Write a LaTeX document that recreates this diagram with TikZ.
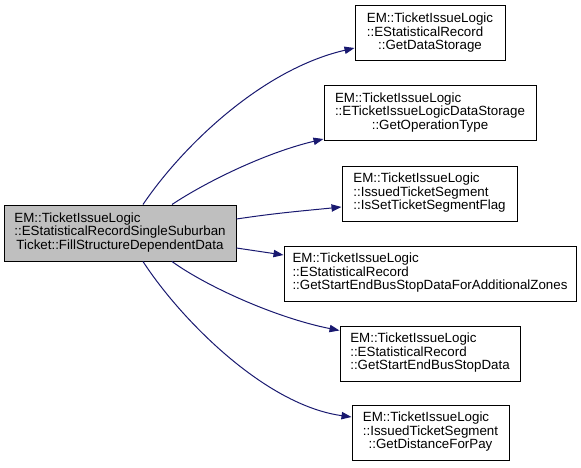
\documentclass[tikz,border=0pt]{standalone}
\usepackage{fontspec}
\setmainfont{Liberation Sans}
\usetikzlibrary{arrows.meta,calc}
\tikzset{
  fbox/.style={draw=black, line width=0.75pt, rectangle, inner sep=0pt, minimum height=41.25pt,
    font=\fontsize{10}{10}\selectfont, align=center},
  mainbox/.style={fbox, fill=mainfill, minimum height=42pt},
  edge/.style={draw=edgecol, line width=0.75pt, -{Triangle[length=7.5pt,width=5.5pt]}}
}
\definecolor{edgecol}{HTML}{191970}
\definecolor{mainfill}{HTML}{BFBFBF}
\newcommand{\lbl}[2]{\begin{tabular}{@{}l@{}}#1\\\multicolumn{1}{@{}c@{}}{#2}\end{tabular}}
\begin{document}
\begin{tikzpicture}[x=0.75pt,y=-0.75pt]
\useasboundingbox (0,0) rectangle (581,467);
\node[mainbox, minimum width=174pt] (main) at (120,233)
  {\lbl{EM::TicketIssueLogic\\::EStatisticalRecordSingleSuburban}{Ticket::FillStructureDependentData}};
\node[fbox, minimum width=112.5pt] (b1) at (430,33.5)
  {\lbl{EM::TicketIssueLogic\\::EStatisticalRecord}{::GetDataStorage}};
\node[fbox, minimum width=159pt] (b2) at (430,113)
  {\lbl{EM::TicketIssueLogic\\::ETicketIssueLogicDataStorage}{::GetOperationType}};
\node[fbox, minimum width=131.25pt] (b3) at (429.5,193.5)
  {\lbl{EM::TicketIssueLogic\\::IssuedTicketSegment}{::IsSetTicketSegmentFlag}};
\node[fbox, minimum width=219pt] (b4) at (430,273.5)
  {\lbl{EM::TicketIssueLogic\\::EStatisticalRecord}{::GetStartEndBusStopDataForAdditionalZones}};
\node[fbox, minimum width=135pt] (b5) at (430,353.5)
  {\lbl{EM::TicketIssueLogic\\::EStatisticalRecord}{::GetStartEndBusStopData}};
\node[fbox, minimum width=117.75pt] (b6) at (430.5,432.5)
  {\lbl{EM::TicketIssueLogic\\::IssuedTicketSegment}{::GetDistanceForPay}};
\draw[edge] ($(main.north)+(23,0)$) .. controls +(37,-55) and +(-95,22) .. ($(b1.west)+(0,14.5)$);
\draw[edge] ($(main.north)+(52,0)$) .. controls +(33,-22) and +(-59,14) .. ($(b2.south west)+(0,-2)$);
\draw[edge] ($(main.east)+(0,-14)$) .. controls +(40,-6) and +(-40,4) .. ($(b3.west)+(0,13.5)$);
\draw[edge] ($(main.east)+(0,15)$) -- ($(b4.west)+(0,-18.5)$);
\draw[edge] ($(main.south)+(52,0)$) .. controls +(33,24) and +(-65,-13) .. ($(b5.north west)+(0,5)$);
\draw[edge] ($(main.south)+(23,0)$) .. controls +(37,57) and +(-87,-12) .. ($(b6.west)+(0,-15.5)$);
\end{tikzpicture}
\end{document}
